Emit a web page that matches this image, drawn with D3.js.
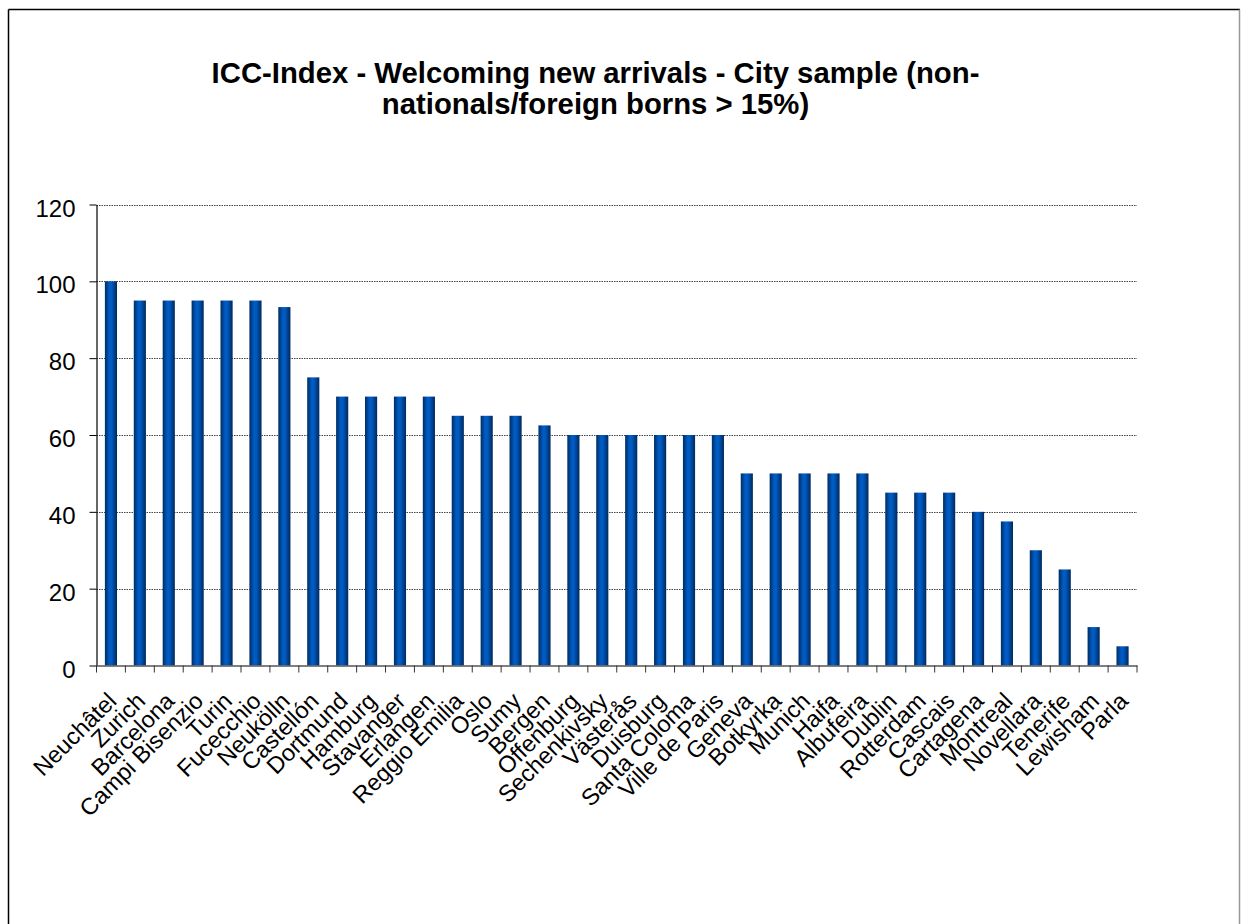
<!DOCTYPE html>
<html>
<head>
<meta charset="utf-8">
<script src="https://cdn.jsdelivr.net/npm/d3@7"></script>
<style>
  html, body { margin: 0; padding: 0; background: #fff; }
  svg { display: block; }
</style>
</head>
<body>
<svg id="chart" width="1241" height="924"></svg>
<script>
const titleLines = ["ICC-Index - Welcoming new arrivals - City sample (non-", "nationals/foreign borns > 15%)"];
const cities = ["Neuchâtel", "Zurich", "Barcelona", "Campi Bisenzio", "Turin", "Fucecchio", "Neukölln", "Castellón",
  "Dortmund", "Hamburg", "Stavanger", "Erlangen", "Reggio Emilia", "Oslo", "Sumy", "Bergen", "Offenburg",
  "Sechenkivsky", "Västerås", "Duisburg", "Santa Coloma", "Ville de Paris", "Geneva", "Botkyrka", "Munich",
  "Haifa", "Albufeira", "Dublin", "Rotterdam", "Cascais", "Cartagena", "Montreal", "Novellara", "Tenerife",
  "Lewisham", "Parla"];
const scores = [100, 95, 95, 95, 95, 95, 93.3, 75,
  70, 70, 70, 70, 65, 65, 65, 62.5, 60,
  60, 60, 60, 60, 60, 50, 50, 50,
  50, 50, 45, 45, 45, 40, 37.5, 30, 25,
  10, 5];
const yTicks = [0, 20, 40, 60, 80, 100, 120];

(function () {
const svg = d3.select("#chart");
const font = "'Liberation Sans', Arial, sans-serif";

// frame
svg.append("line").attr("x1", 8.5).attr("y1", 9.5).attr("x2", 8.5).attr("y2", 924).attr("stroke", "#000").attr("stroke-width", 1.5);
svg.append("line").attr("x1", 8.5).attr("y1", 9.5).attr("x2", 1240).attr("y2", 9.5).attr("stroke", "#000").attr("stroke-width", 1.5);
svg.append("line").attr("x1", 1239.5).attr("y1", 9.5).attr("x2", 1239.5).attr("y2", 924).attr("stroke", "#999").attr("stroke-width", 1.5);

const pLeft = 96.5, pRight = 1137, pTop = 204.5, pBottom = 665.5;
const x = d3.scaleBand().domain(cities).range([pLeft, pRight]).paddingInner(0).paddingOuter(0);
const y = d3.scaleLinear().domain([0, 120]).range([pBottom, pTop]);

// gradient
const defs = svg.append("defs");
const grad = defs.append("linearGradient").attr("id", "barGrad").attr("x1", "0").attr("x2", "1").attr("y1", "0").attr("y2", "0");
[[0, "#002c62"], [0.38, "#005cc4"], [0.55, "#005ac2"], [1, "#00295c"]].forEach(([o, c]) =>
  grad.append("stop").attr("offset", o).attr("stop-color", c));

// gridlines
svg.append("g").selectAll("line").data(yTicks.filter(d => d > 0)).join("line")
  .attr("x1", pLeft).attr("x2", pRight)
  .attr("y1", d => Math.round(y(d)) + 0.5).attr("y2", d => Math.round(y(d)) + 0.5)
  .attr("stroke", "#444").attr("stroke-width", 1).attr("stroke-dasharray", "1.5,1");

// bars
const barW = x.bandwidth() * 0.42;
svg.append("g").selectAll("rect").data(cities).join("rect")
  .attr("x", d => x(d) + (x.bandwidth() - barW) / 2)
  .attr("width", barW)
  .attr("y", (d, i) => y(scores[i]))
  .attr("height", (d, i) => y(0) - y(scores[i]))
  .attr("fill", "url(#barGrad)");

// y axis
const yAxis = d3.axisLeft(y).tickValues(yTicks).tickSize(7).tickSizeOuter(0).tickPadding(14);
const gy = svg.append("g").attr("transform", `translate(${pLeft},0)`).call(yAxis);
gy.select(".domain").attr("stroke", "#000").attr("stroke-width", 1.2);
gy.selectAll(".tick line").attr("stroke", "#000");
gy.selectAll(".tick text").attr("font-family", font).attr("font-size", 24).attr("fill", "#000").attr("dy", "0.48em");

// x axis
const xAxis = d3.axisBottom(x).tickSize(0).tickSizeOuter(0).tickFormat("");
const gx = svg.append("g").attr("transform", `translate(0,${pBottom})`).call(xAxis);
gx.select(".domain").attr("stroke", "#555").attr("stroke-width", 1.5);
const boundaries = cities.map(c => x(c)).concat([pRight]);
gx.append("g").selectAll("line").data(boundaries).join("line")
  .attr("x1", d => d).attr("x2", d => d).attr("y1", 0).attr("y2", 7)
  .attr("stroke", "#333").attr("stroke-width", 1);

// category labels
svg.append("g").selectAll("text").data(cities).join("text")
  .attr("transform", d => `translate(${x(d) + x.bandwidth() / 2 + 7},${pBottom + 37}) rotate(-45)`)
  .attr("text-anchor", "end")
  .attr("font-family", font).attr("font-size", 23.5).attr("fill", "#000")
  .text(d => d);

// title
const tg = svg.append("g").attr("font-family", font).attr("font-size", 29.3).attr("font-weight", "bold").attr("text-anchor", "middle");
tg.selectAll("text").data(titleLines).join("text")
  .attr("x", 595.5).attr("y", (d, i) => 83 + i * 31)
  .text(d => d);
})();
</script>
</body>
</html>
